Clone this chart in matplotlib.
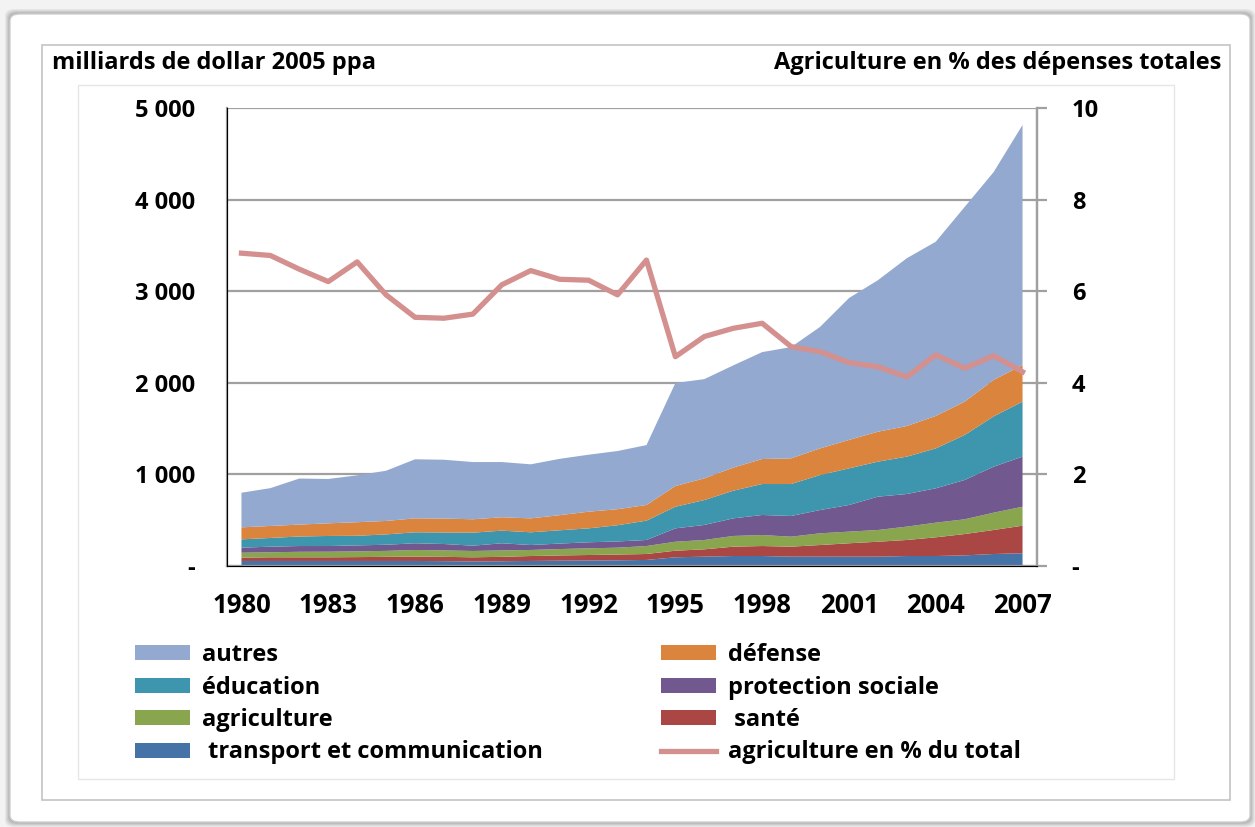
import numpy as np
import matplotlib.pyplot as plt
from matplotlib.patches import FancyBboxPatch, Rectangle, Patch
from matplotlib.lines import Line2D
from matplotlib.ticker import FuncFormatter


years = list(range(1980, 2008))

# milliards de dollar 2005 ppa, one layer per category (bottom to top)
transport = [55, 55, 55, 55, 55, 55, 55, 53, 50, 52, 55, 58, 60, 62, 66,
             95, 102, 109, 109, 102, 102, 102, 102, 109, 109, 116, 131, 139]
sante = [36, 40, 40, 40, 42, 45, 47, 47, 45, 48, 54, 57, 60, 63, 65,
         72, 80, 102, 109, 109, 127, 146, 163, 175, 204, 233, 262, 301]
agriculture = [54, 55, 60, 61, 63, 65, 73, 70, 69, 70, 66, 70, 73, 75, 87,
               98, 102, 117, 120, 109, 128, 127, 128, 146, 160, 161, 189, 207]
protection = [55, 61, 63, 62, 65, 67, 73, 70, 58, 78, 54, 60, 66, 68, 66,
              146, 164, 192, 219, 226, 254, 291, 364, 356, 375, 429, 502, 547]
education = [91, 95, 104, 110, 105, 113, 120, 126, 142, 138, 139, 145, 152, 177, 211,
             236, 272, 302, 338, 349, 382, 400, 382, 408, 436, 491, 549, 600]
defense = [131, 131, 130, 138, 148, 147, 152, 152, 146, 146, 152, 165, 182, 175, 171,
           226, 237, 252, 273, 280, 291, 310, 327, 334, 354, 364, 398, 400]
autres = [378, 413, 503, 484, 512, 548, 645, 642, 625, 603, 590, 615, 622, 635, 654,
          1125, 1083, 1116, 1167, 1215, 1326, 1549, 1654, 1832, 1902, 2126, 2269, 2621]

# agriculture en % des depenses totales
agri_pct = [6.83, 6.78, 6.48, 6.21, 6.64, 5.92, 5.43, 5.41, 5.50, 6.14, 6.45, 6.26, 6.24, 5.92,
            6.68, 4.57, 5.01, 5.19, 5.30, 4.79, 4.68, 4.44, 4.35, 4.13, 4.61, 4.32, 4.59, 4.24]

layers = [transport, sante, agriculture, protection, education, defense, autres]
colors = ['#4572A7', '#AA4643', '#89A54E', '#71588F', '#3D96AE', '#DB843D', '#93A9CF']
line_color = '#D4908E'

plt.rcParams['font.family'] = ['Open Sans', 'DejaVu Sans']
plt.rcParams['font.weight'] = 'bold'

W, H = 1255, 827
fig = plt.figure(figsize=(W / 100, H / 100), dpi=100)
fig.patch.set_facecolor('#f3f3f3')


def fx(px):
    return px / W


def fy(py):
    return 1 - py / H


def add_bg(p):
    p.set_zorder(-10)
    fig.patches.append(p)


# card with soft shadow
for i, a in enumerate([0.05, 0.05, 0.06, 0.07, 0.08]):
    g = 5 - i
    add_bg(FancyBboxPatch((fx(10 - g), fy(822 + g)), fx(1240 + 2 * g), (808 + 2 * g) / H,
                          boxstyle='round,pad=0,rounding_size=0.008',
                          transform=fig.transFigure, fc='black', ec='none', alpha=a))
add_bg(FancyBboxPatch((fx(10), fy(822)), fx(1240), 808 / H,
                      boxstyle='round,pad=0,rounding_size=0.008',
                      transform=fig.transFigure, fc='white', ec='#d0d0d0', lw=1))
add_bg(Rectangle((fx(42), fy(800)), fx(1188), 755 / H, transform=fig.transFigure,
                 fc='white', ec='#c4c4c4', lw=1.2))
add_bg(Rectangle((fx(78), fy(779)), fx(1096), 694 / H, transform=fig.transFigure,
                 fc='none', ec='#e6e6e6', lw=1))

fig.text(fx(52), fy(63), 'milliards de dollar 2005 ppa', fontsize=17, fontweight='bold', va='center', ha='left')
fig.text(fx(1221), fy(63), 'Agriculture en % des dépenses totales', fontsize=17, fontweight='bold',
         va='center', ha='right')

ax = fig.add_axes([fx(227), fy(566), (1037 - 227) / W, (566 - 108) / H])
ax.patch.set_alpha(0)
ax.stackplot(years, *layers, colors=colors, linewidth=0)
ax.set_xlim(1979.5, 2007.5)
ax.set_ylim(0, 5000)
ax.set_xticks(range(1980, 2008, 3))
ax.set_yticks(range(0, 5001, 1000))
ax.yaxis.set_major_formatter(FuncFormatter(lambda v, p: '-' if v == 0 else f'{int(v):,}'.replace(',', ' ')))
ax.grid(axis='y', color='#a0a0a0', lw=1.6)
ax.set_axisbelow(True)
for s in ['left', 'bottom', 'right']:
    ax.spines[s].set_color('#a0a0a0')
    ax.spines[s].set_linewidth(1.6)
ax.spines['top'].set_visible(False)
ax.tick_params(axis='y', length=0, pad=23, labelsize=17)
ax.tick_params(axis='x', length=0, pad=19, labelsize=18.5)

ax2 = ax.twinx()
ax2.plot(years, agri_pct, color=line_color, lw=3.8)
ax2.set_ylim(0, 10)
ax2.set_yticks(range(0, 11, 2))
ax2.yaxis.set_major_formatter(FuncFormatter(lambda v, p: '-' if v == 0 else f'{int(v)}'))
ax2.spines['top'].set_visible(False)
ax2.spines['right'].set_color('#a0a0a0')
ax2.spines['right'].set_linewidth(1.6)
ax2.tick_params(axis='y', length=7, width=1.6, color='#a0a0a0', pad=18, labelsize=17)

# legend in two columns
names1 = ['autres', 'éducation', 'agriculture', ' transport et communication']
cols1 = [colors[6], colors[4], colors[2], colors[0]]
names2 = ['défense', 'protection sociale', ' santé', 'agriculture en % du total']
h1 = [Patch(fc=c, ec='none') for c in cols1]
h2 = [Patch(fc=colors[5], ec='none'), Patch(fc=colors[3], ec='none'), Patch(fc=colors[1], ec='none'),
      Line2D([], [], color=line_color, lw=3.8)]
kw = dict(frameon=False, fontsize=17, borderpad=0, borderaxespad=0, handlelength=2.35, handleheight=0.6,
          handletextpad=0.5, labelspacing=0.36, loc='upper left')
leg1 = fig.legend(h1, names1, bbox_to_anchor=(fx(135), fy(643)), **kw)
leg2 = fig.legend(h2, names2, bbox_to_anchor=(fx(661), fy(643)), **kw)

fig.savefig('out.png', dpi=100, facecolor=fig.get_facecolor())
